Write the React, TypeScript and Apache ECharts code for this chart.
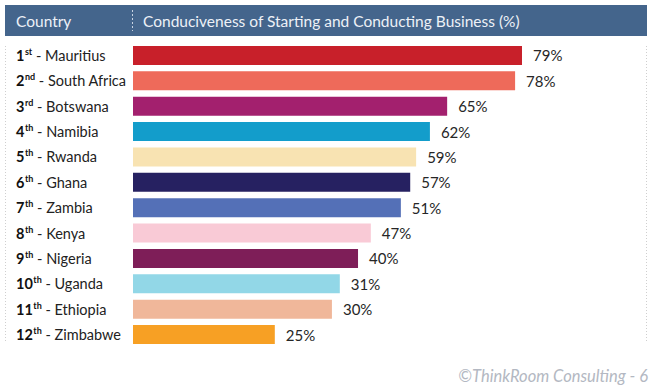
import React, { useEffect, useRef } from "react";
import * as echarts from "echarts";

const countries = [
  "Mauritius", "South Africa", "Botswana", "Namibia", "Rwanda", "Ghana",
  "Zambia", "Kenya", "Nigeria", "Uganda", "Ethiopia", "Zimbabwe",
];
// displayed scores (%)
const scores = [79, 78, 65, 62, 59, 57, 51, 47, 40, 31, 30, 25];
// bar lengths as drawn in the reference (same % units)
const barLengths = [79.0, 77.6, 63.8, 60.3, 57.5, 56.3, 54.4, 48.3, 45.7, 42.0, 40.4, 28.8];
const barColors = [
  "#C8202A", "#EE6A5A", "#A3206E", "#139DCB", "#F8E3B2", "#262161",
  "#5470B7", "#F9CAD6", "#7E1E58", "#92D7E7", "#F0B79A", "#F7A024",
];
const headerLeft = "Country";
const headerRight = "Conduciveness of Starting and Conducting Business (%)";
const footer = "\u00A9ThinkRoom Consulting - 6";

const FONT = "Lato, 'Noto Sans', sans-serif";

function suffix(n: number): string {
  if (n === 1) return "st";
  if (n === 2) return "nd";
  if (n === 3) return "rd";
  return "th";
}

export default function App() {
  const ref = useRef<HTMLDivElement>(null);
  useEffect(() => {
    if (!ref.current) return;
    const chart = echarts.init(ref.current, undefined, { renderer: "svg" });
    chart.setOption({
      animation: false,
      textStyle: { fontFamily: FONT },
      grid: { left: 133, top: 42.8, width: 492.4, height: 304.4, containLabel: false },
      xAxis: {
        type: "value",
        min: 0,
        max: 100,
        show: false,
      },
      yAxis: {
        type: "category",
        inverse: true,
        data: countries,
        axisLine: { show: false },
        axisTick: { show: false },
        axisLabel: {
          margin: 117,
          align: "left",
          formatter: (v: string, i: number) =>
            `{n|${i + 1}}{s|${suffix(i + 1)}}{t| - ${v}}`,
          rich: {
            n: { fontSize: 14.5, fontWeight: "bold", color: "#111", fontFamily: FONT },
            s: { fontSize: 9, fontWeight: "bold", color: "#111", fontFamily: FONT, padding: [0, 0, 8, 0.5] },
            t: { fontSize: 14.5, color: "#222", fontFamily: FONT },
          },
        },
      },
      series: [
        {
          type: "bar",
          data: barLengths.map((v, i) => ({ value: v, itemStyle: { color: barColors[i] } })),
          barWidth: 19,
          label: {
            show: true,
            position: "right",
            distance: 11,
            formatter: (p: any) => `${scores[p.dataIndex]}%`,
            fontSize: 15,
            color: "#262626",
            fontFamily: FONT,
          },
        },
      ],
      graphic: [
        { type: "rect", shape: { x: 5, y: 5, width: 642, height: 31 }, style: { fill: "#44658C" } },
        {
          type: "text", x: 16, y: 21,
          style: { text: headerLeft, fill: "#EDF1F7", font: `15.5px ${FONT}`, verticalAlign: "middle" },
        },
        {
          type: "line", shape: { x1: 132.5, y1: 10, x2: 132.5, y2: 31 },
          style: { stroke: "#C8D3E2", lineWidth: 1, lineDash: [2, 2] },
        },
        {
          type: "text", x: 143, y: 21,
          style: { text: headerRight, fill: "#EDF1F7", font: `15.5px ${FONT}`, verticalAlign: "middle" },
        },
        {
          type: "line", shape: { x1: 5.5, y1: 46, x2: 5.5, y2: 343 },
          style: { stroke: "#CFCFCF", lineWidth: 1, lineDash: [1, 2] },
        },
        {
          type: "line", shape: { x1: 646.5, y1: 46, x2: 646.5, y2: 343 },
          style: { stroke: "#CFCFCF", lineWidth: 1, lineDash: [1, 2] },
        },
        {
          type: "text", x: 648, y: 376,
          style: {
            text: footer, fill: "#B3B8C2", font: `italic 16.5px ${FONT}`,
            align: "right", verticalAlign: "middle",
          },
        },
      ],
    });
    return () => chart.dispose();
  }, []);
  return <div ref={ref} style={{ width: 654, height: 388, position: "absolute", left: 0, top: 0 }} />;
}
